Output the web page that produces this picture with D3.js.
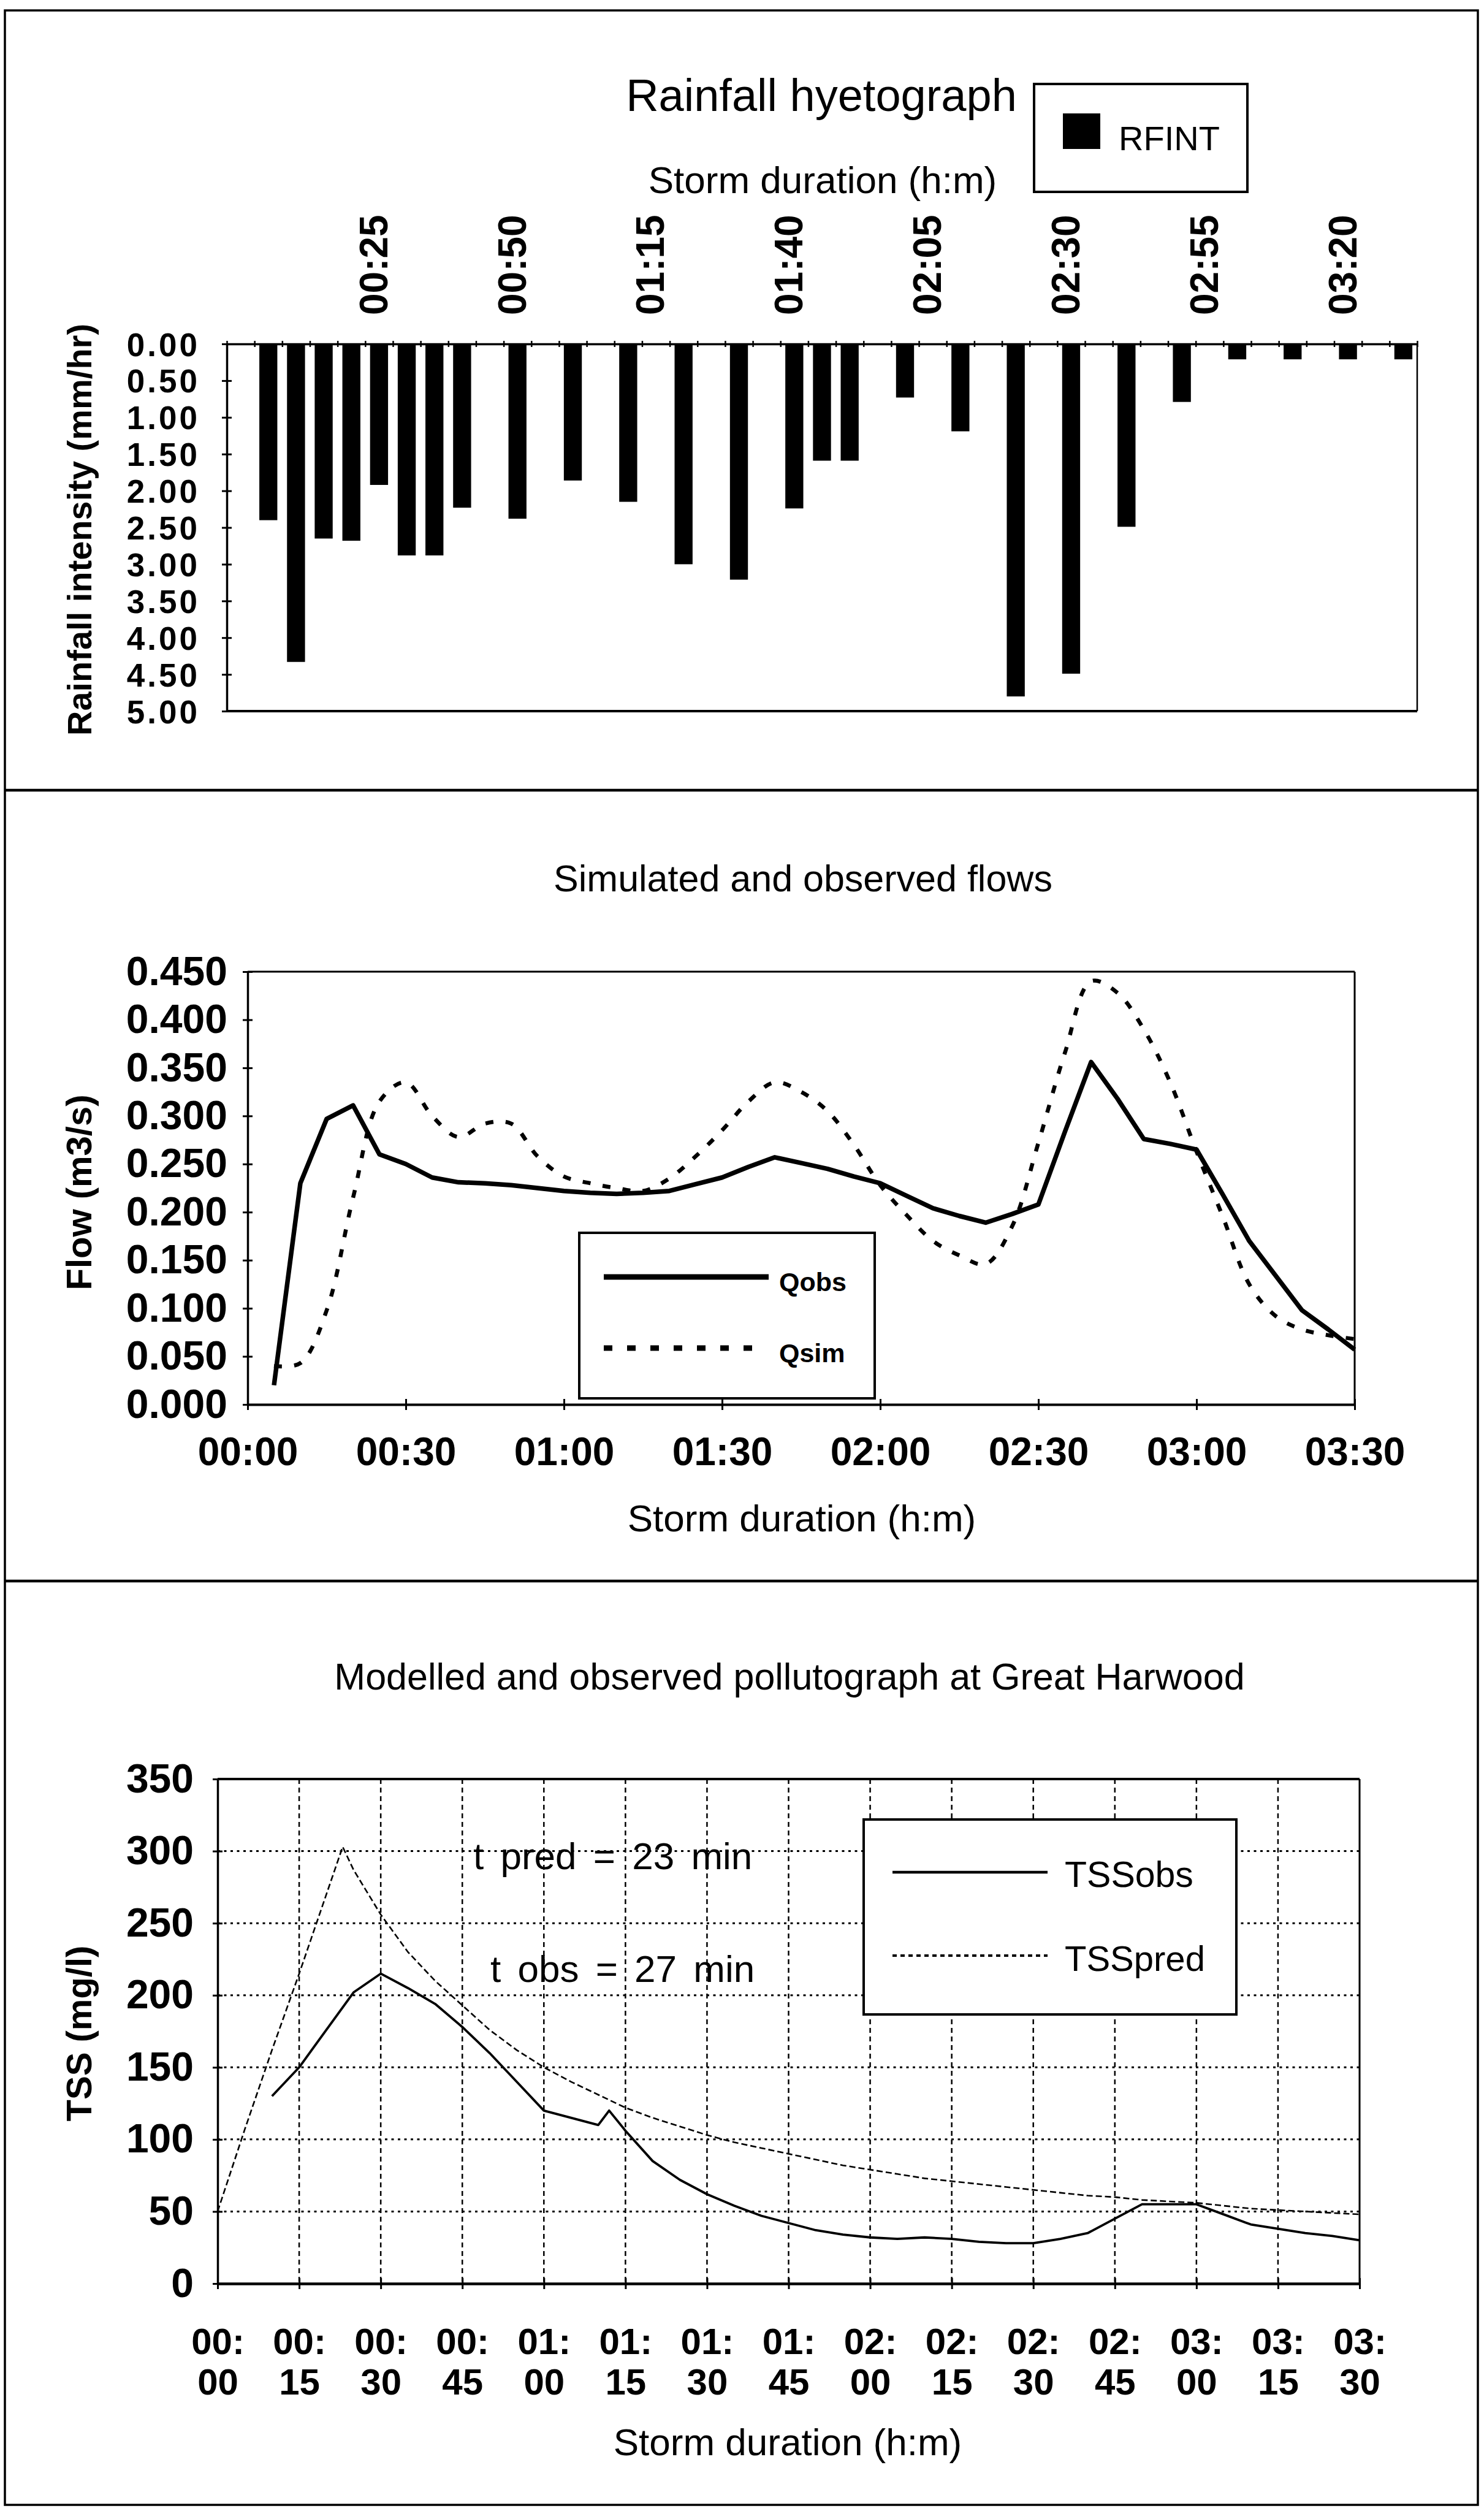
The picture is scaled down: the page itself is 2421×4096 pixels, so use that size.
<!DOCTYPE html>
<html>
<head>
<meta charset="utf-8">
<script src="https://cdnjs.cloudflare.com/ajax/libs/d3/7.8.5/d3.min.js"></script>
<style>
  html, body { margin: 0; padding: 0; background: #fff; }
  svg { display: block; }
  text { font-family: "Liberation Sans", Arial, sans-serif; fill: #000; }
</style>
</head>
<body>
<svg id="chart" width="2421" height="4096"></svg>
<script>
// ---------- Rainfall hyetograph (5-minute intensities, mm/hr) ----------
const rainTimes = ["00:00","00:05","00:10","00:15","00:20","00:25","00:30","00:35","00:40","00:45","00:50","00:55",
  "01:00","01:05","01:10","01:15","01:20","01:25","01:30","01:35","01:40","01:45","01:50","01:55",
  "02:00","02:05","02:10","02:15","02:20","02:25","02:30","02:35","02:40","02:45","02:50","02:55",
  "03:00","03:05","03:10","03:15","03:20","03:25","03:30"];
const rainIntensity = [0, 2.40, 4.33, 2.65, 2.68, 1.92, 2.88, 2.88, 2.23, 0, 2.38, 0,
  1.86, 0, 2.15, 0, 3.00, 0, 3.21, 0, 2.24, 1.59, 1.59, 0,
  0.73, 0, 1.19, 0, 4.80, 0, 4.49, 0, 2.49, 0, 0.79, 0,
  0.21, 0, 0.21, 0, 0.21, 0, 0.21];
const rainTickLabels = ["00:25","00:50","01:15","01:40","02:05","02:30","02:55","03:20"];
const rainTicks = [0, 0.5, 1, 1.5, 2, 2.5, 3, 3.5, 4, 4.5, 5];

// ---------- Simulated and observed flows (m3/s) ----------
const flowMinutes = [5,10,15,20,25,30,35,40,45,50,55,60,65,70,75,80,85,90,95,100,105,110,115,120,
  125,130,135,140,145,150,155,160,165,170,175,180,185,190,195,200,205,210];
const qObs = [0.020,0.230,0.297,0.311,0.260,0.250,0.236,0.231,0.230,0.228,0.225,0.222,0.220,0.219,0.220,0.222,
  0.229,0.236,0.247,0.257,0.251,0.245,0.237,0.230,0.217,0.204,0.196,0.189,0.198,0.208,0.283,0.356,
  0.318,0.276,0.271,0.265,0.218,0.170,0.134,0.098,0.078,0.057];
const qSim = [0.040,0.043,0.098,0.215,0.315,0.335,0.300,0.278,0.292,0.292,0.258,0.237,0.230,0.225,0.222,0.235,
  0.258,0.285,0.315,0.335,0.325,0.305,0.270,0.228,0.197,0.170,0.155,0.146,0.185,0.272,0.365,0.440,
  0.428,0.390,0.335,0.263,0.195,0.125,0.092,0.078,0.072,0.068];
const flowTicks = [0, 0.05, 0.10, 0.15, 0.20, 0.25, 0.30, 0.35, 0.40, 0.45];
const flowTimeTicks = [0, 30, 60, 90, 120, 150, 180, 210];
const flowTimeLabels = ["00:00","00:30","01:00","01:30","02:00","02:30","03:00","03:30"];

// ---------- Pollutograph at Great Harwood (TSS, mg/l) ----------
const tssObsMinutes = [10,15,20,25,30,35,40,45,50,55,60,65,70,72,75,80,85,90,95,100,105,110,115,120,
  125,130,135,140,145,150,155,160,165,170,175,180,185,190,195,200,205,210];
const tssObs = [130,150,176,202,215,205,194,178,160,140,120,115,110,120,106,85,72,62,54,47,42,37,34,32,
  31,32,31,29,28,28,31,35,45,55,55,55,48,41,38,35,33,30];
const tssPredMinutes = [0,5,10,15,20,23,25,30,35,40,45,50,55,60,65,70,75,80,85,90,95,100,105,110,115,120,
  125,130,135,140,145,150,155,160,165,170,175,180,185,190,195,200,205,210];
const tssPred = [50,107,162,215,270,303,287,256,230,210,193,176,162,150,140,131,122,115,109,103,98,94,90,86,82,79,
  76,73,71,69,67,65,63,61,60,58,57,56,54,52,51,50,49,48];
const tssTicks = [0, 50, 100, 150, 200, 250, 300, 350];
const tssTimeTicks = [0,15,30,45,60,75,90,105,120,135,150,165,180,195,210];
const tssTimeLabels = ["00:00","00:15","00:30","00:45","01:00","01:15","01:30","01:45",
  "02:00","02:15","02:30","02:45","03:00","03:15","03:30"];

const FONT = "Liberation Sans, Arial, sans-serif";
const svg = d3.select("#chart");

svg.append("rect").attr("width", 2421).attr("height", 4096).attr("fill", "#fff");

function styleAxis(g, size, weight) {
  g.attr("font-family", FONT).attr("font-size", size).attr("font-weight", weight || "bold");
  g.selectAll("text").attr("fill", "#000");
  g.selectAll("path, line").attr("stroke", "#000");
}

function label(x, y, txt, size, opts) {
  opts = opts || {};
  return svg.append("text")
    .attr("x", x).attr("y", y)
    .attr("text-anchor", opts.anchor || "middle")
    .attr("font-size", size)
    .attr("font-weight", opts.weight || "normal")
    .text(txt);
}

function yTitle(cx, cy, txt, size) {
  svg.append("text")
    .attr("transform", `translate(${cx},${cy}) rotate(-90)`)
    .attr("text-anchor", "middle")
    .attr("font-size", size)
    .attr("font-weight", "bold")
    .text(txt);
}

// ---------- outer frame and panel dividers ----------
svg.append("rect").attr("x", 8).attr("y", 17).attr("width", 2403).attr("height", 4069)
  .attr("fill", "none").attr("stroke", "#000").attr("stroke-width", 3.5);
[1289, 2579].forEach(y => {
  svg.append("line").attr("x1", 8).attr("x2", 2411).attr("y1", y).attr("y2", y)
    .attr("stroke", "#000").attr("stroke-width", 4.5);
});

// =====================================================================
// Panel 1: rainfall hyetograph (bars hang from the top axis)
// =====================================================================
const p1 = { left: 370, right: 2312, top: 561, bottom: 1160 };
const xRain = d3.scaleBand().domain(rainTimes).range([p1.left, p1.right])
  .paddingInner(0.35).paddingOuter(0.175);
const yRain = d3.scaleLinear().domain([0, 5]).range([p1.top, p1.bottom]);
const xEdge = d3.scaleLinear().domain([0, rainTimes.length]).range([p1.left, p1.right]);

// plot-area frame (right and bottom)
svg.append("line").attr("x1", p1.right).attr("x2", p1.right).attr("y1", p1.top).attr("y2", p1.bottom)
  .attr("stroke", "#000").attr("stroke-width", 2.5);
svg.append("line").attr("x1", p1.left).attr("x2", p1.right).attr("y1", p1.bottom).attr("y2", p1.bottom)
  .attr("stroke", "#000").attr("stroke-width", 4);

svg.append("g").selectAll("rect")
  .data(rainTimes.map((t, i) => ({ t, v: rainIntensity[i] })).filter(d => d.v > 0))
  .join("rect")
  .attr("x", d => xRain(d.t))
  .attr("y", yRain(0))
  .attr("width", xRain.bandwidth())
  .attr("height", d => yRain(d.v) - yRain(0))
  .attr("fill", "#000");

// top category axis: ticks on category boundaries
const gEdge = svg.append("g").attr("transform", `translate(0,${p1.top})`)
  .call(d3.axisTop(xEdge).tickValues(d3.range(rainTimes.length + 1)).tickFormat("").tickSizeOuter(0).tickSizeInner(5));
styleAxis(gEdge, 10);
gEdge.select(".domain").attr("stroke-width", 3.5);
gEdge.selectAll(".tick line").attr("y1", 5).attr("y2", -5).attr("stroke-width", 2.5);

// rotated time labels every fifth category
const gRainLab = svg.append("g").attr("transform", `translate(0,${p1.top})`)
  .call(d3.axisTop(xRain).tickValues(rainTickLabels).tickSize(0));
styleAxis(gRainLab, 64, "bold");
gRainLab.select(".domain").remove();
gRainLab.selectAll(".tick text")
  .attr("transform", "rotate(-90)")
  .attr("text-anchor", "start")
  .attr("x", 47).attr("y", 0).attr("dy", "0.21em");

// left value axis (labels kept compact so neighbouring values do not collide)
const gRainY = svg.append("g").attr("transform", `translate(${p1.left},0)`)
  .call(d3.axisLeft(yRain).tickValues(rainTicks).tickFormat(d => d.toFixed(2))
    .tickSizeInner(8).tickSizeOuter(0).tickPadding(36));
styleAxis(gRainY, 53, "bold");
gRainY.selectAll(".tick text").attr("letter-spacing", 4).attr("dy", "0.36em");
gRainY.select(".domain").attr("stroke-width", 3.5);
gRainY.selectAll(".tick line").attr("x1", 8).attr("x2", -8).attr("stroke-width", 3);

yTitle(149, 864, "Rainfall intensity (mm/hr)", 56);
label(1340, 181, "Rainfall hyetograph", 74);
label(1342, 315, "Storm duration (h:m)", 62);

// legend
svg.append("rect").attr("x", 1687).attr("y", 137).attr("width", 348).attr("height", 176)
  .attr("fill", "#fff").attr("stroke", "#000").attr("stroke-width", 4);
svg.append("rect").attr("x", 1734).attr("y", 185).attr("width", 61).attr("height", 58).attr("fill", "#000");
label(1825, 245, "RFINT", 56, { anchor: "start" });

// =====================================================================
// Panel 2: simulated and observed flows
// =====================================================================
const p2 = { left: 404, right: 2210, top: 1585, bottom: 2291 };
const xFlow = d3.scaleLinear().domain([0, 210]).range([p2.left, p2.right]);
const yFlow = d3.scaleLinear().domain([0, 0.45]).range([p2.bottom, p2.top]);

svg.append("line").attr("x1", p2.left).attr("x2", p2.right).attr("y1", p2.top).attr("y2", p2.top)
  .attr("stroke", "#000").attr("stroke-width", 3);
svg.append("line").attr("x1", p2.right).attr("x2", p2.right).attr("y1", p2.top).attr("y2", p2.bottom)
  .attr("stroke", "#000").attr("stroke-width", 3);

const gFlowX = svg.append("g").attr("transform", `translate(0,${p2.bottom})`)
  .call(d3.axisBottom(xFlow).tickValues(flowTimeTicks).tickFormat((d, i) => flowTimeLabels[i])
    .tickSizeInner(9).tickSizeOuter(0));
styleAxis(gFlowX, 64, "bold");
gFlowX.select(".domain").attr("stroke-width", 4);
gFlowX.selectAll(".tick line").attr("y1", -9).attr("y2", 9).attr("stroke-width", 3);
gFlowX.selectAll(".tick text").attr("y", 99).attr("dy", 0);

const gFlowY = svg.append("g").attr("transform", `translate(${p2.left},0)`)
  .call(d3.axisLeft(yFlow).tickValues(flowTicks).tickFormat(d3.format(".3f"))
    .tickSizeInner(8).tickSizeOuter(0).tickPadding(25));
styleAxis(gFlowY, 66, "bold");
gFlowY.select(".domain").attr("stroke-width", 3.5);
gFlowY.selectAll(".tick line").attr("x1", 8).attr("x2", -8).attr("stroke-width", 3);

const obsLine = d3.line().x((d, i) => xFlow(flowMinutes[i])).y(d => yFlow(d));
const simLine = d3.line().x((d, i) => xFlow(flowMinutes[i])).y(d => yFlow(d)).curve(d3.curveCatmullRom.alpha(0.5));

svg.append("path").attr("d", simLine(qSim)).attr("fill", "none").attr("stroke", "#000")
  .attr("stroke-width", 6.5).attr("stroke-dasharray", "13 20");
svg.append("path").attr("d", obsLine(qObs)).attr("fill", "none").attr("stroke", "#000")
  .attr("stroke-width", 7.5).attr("stroke-linejoin", "round");

yTitle(149, 1945, "Flow (m3/s)", 58);
label(1310, 1454, "Simulated and observed flows", 61);
label(1308, 2498, "Storm duration (h:m)", 62);

// legend
svg.append("rect").attr("x", 945).attr("y", 2011).attr("width", 482).attr("height", 270)
  .attr("fill", "#fff").attr("stroke", "#000").attr("stroke-width", 4);
svg.append("line").attr("x1", 985).attr("x2", 1254).attr("y1", 2083).attr("y2", 2083)
  .attr("stroke", "#000").attr("stroke-width", 9);
svg.append("line").attr("x1", 985).attr("x2", 1240).attr("y1", 2199).attr("y2", 2199)
  .attr("stroke", "#000").attr("stroke-width", 9).attr("stroke-dasharray", "14 24");
label(1271, 2106, "Qobs", 43, { anchor: "start", weight: "bold" });
label(1271, 2222, "Qsim", 43, { anchor: "start", weight: "bold" });

// =====================================================================
// Panel 3: modelled and observed pollutograph
// =====================================================================
const p3 = { left: 355, right: 2218, top: 2902, bottom: 3725 };
const xTss = d3.scaleLinear().domain([0, 210]).range([p3.left, p3.right]);
const yTss = d3.scaleLinear().domain([0, 350]).range([p3.bottom, p3.top]);

// dotted gridlines
svg.append("g").selectAll("line").data(tssTicks.filter(v => v > 0 && v < 350)).join("line")
  .attr("x1", p3.left).attr("x2", p3.right).attr("y1", d => yTss(d)).attr("y2", d => yTss(d))
  .attr("stroke", "#000").attr("stroke-width", 3).attr("stroke-dasharray", "4 6.5");
svg.append("g").selectAll("line").data(tssTimeTicks.filter(v => v > 0 && v < 210)).join("line")
  .attr("x1", d => xTss(d)).attr("x2", d => xTss(d)).attr("y1", p3.top).attr("y2", p3.bottom)
  .attr("stroke", "#000").attr("stroke-width", 2.5).attr("stroke-dasharray", "8 6");

// plot-area frame (top and right)
svg.append("line").attr("x1", p3.left).attr("x2", p3.right).attr("y1", p3.top).attr("y2", p3.top)
  .attr("stroke", "#000").attr("stroke-width", 4);
svg.append("line").attr("x1", p3.right).attr("x2", p3.right).attr("y1", p3.top).attr("y2", p3.bottom)
  .attr("stroke", "#000").attr("stroke-width", 3);

const gTssX = svg.append("g").attr("transform", `translate(0,${p3.bottom})`)
  .call(d3.axisBottom(xTss).tickValues(tssTimeTicks).tickFormat("").tickSizeInner(9).tickSizeOuter(0));
styleAxis(gTssX, 60, "bold");
gTssX.select(".domain").attr("stroke-width", 4.5);
gTssX.selectAll(".tick line").attr("y1", -9).attr("y2", 9).attr("stroke-width", 3);
gTssX.selectAll(".tick text").remove();
gTssX.selectAll(".tick").append("text")
  .attr("text-anchor", "middle")
  .each(function (d, i) {
    const parts = tssTimeLabels[i].split(":");
    const t = d3.select(this);
    t.append("tspan").attr("x", 0).attr("y", 115).text(parts[0] + ":");
    t.append("tspan").attr("x", 0).attr("y", 181).text(parts[1]);
  });

const gTssY = svg.append("g").attr("transform", `translate(${p3.left},0)`)
  .call(d3.axisLeft(yTss).tickValues(tssTicks).tickSizeInner(8).tickSizeOuter(0).tickPadding(31));
styleAxis(gTssY, 66, "bold");
gTssY.select(".domain").attr("stroke-width", 3.5);
gTssY.selectAll(".tick line").attr("x1", 8).attr("x2", -8).attr("stroke-width", 3);

const predLine = d3.line().x((d, i) => xTss(tssPredMinutes[i])).y(d => yTss(d));
const tObsLine = d3.line().x((d, i) => xTss(tssObsMinutes[i])).y(d => yTss(d));
svg.append("path").attr("d", predLine(tssPred)).attr("fill", "none").attr("stroke", "#000")
  .attr("stroke-width", 2.6).attr("stroke-dasharray", "10 5");
svg.append("path").attr("d", tObsLine(tssObs)).attr("fill", "none").attr("stroke", "#000")
  .attr("stroke-width", 3.8).attr("stroke-linejoin", "round");

// annotations
label(772, 3049, "t pred = 23 min", 62, { anchor: "start" }).attr("word-spacing", 10);
label(800, 3233, "t obs = 27 min", 62, { anchor: "start" }).attr("word-spacing", 10);

yTitle(149, 3317, "TSS (mg/l)", 58);
label(1288, 2756, "Modelled and observed pollutograph at Great Harwood", 61);
label(1285, 4005, "Storm duration (h:m)", 62);

// legend
svg.append("rect").attr("x", 1409).attr("y", 2968).attr("width", 608).attr("height", 318)
  .attr("fill", "#fff").attr("stroke", "#000").attr("stroke-width", 4);
svg.append("line").attr("x1", 1456).attr("x2", 1709).attr("y1", 3054).attr("y2", 3054)
  .attr("stroke", "#000").attr("stroke-width", 4.5);
svg.append("line").attr("x1", 1456).attr("x2", 1709).attr("y1", 3190).attr("y2", 3190)
  .attr("stroke", "#000").attr("stroke-width", 4).attr("stroke-dasharray", "7 6");
label(1737, 3078, "TSSobs", 59, { anchor: "start" });
label(1737, 3215, "TSSpred", 58, { anchor: "start" });
</script>
</body>
</html>
